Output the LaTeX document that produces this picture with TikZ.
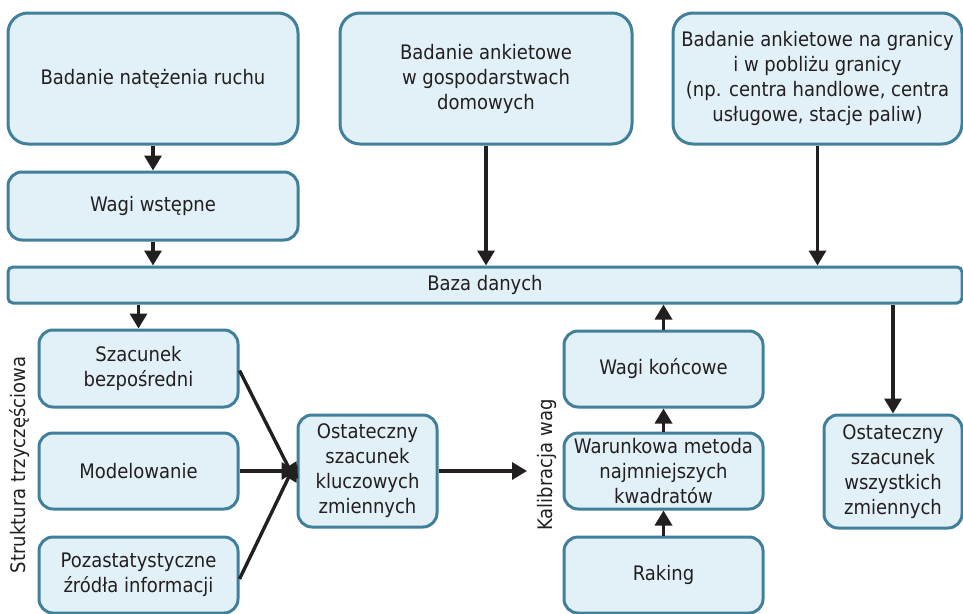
\documentclass[tikz,border=0pt]{standalone}
\usepackage{fontspec}
\setmainfont{DejaVu Sans Condensed}
\usepackage{tikz}
\usetikzlibrary{arrows.meta}
\definecolor{ramka}{HTML}{41809A}
\definecolor{tlo}{HTML}{E2F1F8}
\definecolor{tekst}{HTML}{231F20}

\begin{document}
\begin{tikzpicture}[x=1pt,y=-1pt,font=\fontsize{20}{25}\selectfont,text=tekst,
blok/.style 2 args={rectangle,draw=ramka,fill=tlo,line width=3pt,rounded corners=14pt,minimum width=#1,minimum height=#2,inner sep=0pt,align=center},
duzy/.style={rounded corners=20pt},
strz/.style={draw=tekst,line width=3.4pt,-{Triangle[width=17pt,length=15pt]}}]
\useasboundingbox (0,0) rectangle (963,613);
% gorny rzad
\node[blok={290pt}{131pt},duzy] (ruch) at (153,78.5) {Badanie natężenia ruchu};
\node[blok={292pt}{131pt},duzy] (gosp) at (486,78.5) {Badanie ankietowe\\w gospodarstwach\\domowych};
\node[blok={289pt}{131pt},duzy] (granica) at (817.5,78.5) {Badanie ankietowe na granicy\\i w pobliżu granicy\\(np. centra handlowe, centra\\usługowe, stacje paliw)};
\node[blok={290pt}{68pt}] (wstepne) at (153,206) {Wagi wstępne};
\node[blok={954pt}{36pt},rounded corners=5pt] (baza) at (485,285) {Baza danych};
% struktura trzyczesciowa
\node[blok={199pt}{77pt}] (bezp) at (138.5,368.5) {Szacunek\\bezpośredni};
\node[blok={199pt}{76pt}] (model) at (138.5,471) {Modelowanie};
\node[blok={199pt}{76pt}] (poza) at (138.5,575) {Pozastatystyczne\\źródła informacji};
\node[rotate=90] (struktura) at (20,465) {Struktura trzyczęściowa};
\node[blok={139pt}{112pt}] (klucz) at (367.5,471) {Ostateczny\\szacunek\\kluczowych\\zmiennych};
% kalibracja wag
\node[rotate=90] (kalibracja) at (547,465) {Kalibracja wag};
\coordinate (kal) at (527,471);
\node[blok={199pt}{76pt}] (koncowe) at (663.5,369) {Wagi końcowe};
\node[blok={199pt}{76pt}] (warunek) at (663.5,471) {Warunkowa metoda\\najmniejszych\\kwadratów};
\node[blok={199pt}{76pt}] (raking) at (663.5,575) {Raking};
\node[blok={138pt}{113pt}] (wszystkie) at (893,471.5) {Ostateczny\\szacunek\\wszystkich\\zmiennych};
% strzalki
\draw[strz] (ruch) -- (wstepne);
\foreach \z in {wstepne,gosp,granica} {
   \draw[strz] (\z.south) -- (\z.south |- baza.north);
}
\foreach \z in {bezp,wszystkie} {
   \draw[strz] (\z.north |- baza.south) -- (\z.north);
}
\draw[strz] (bezp.east) ++(0,2) -- ([yshift=-12pt]klucz.west);
\draw[strz] (model) -- (klucz);
\draw[strz] ([yshift=-4pt]poza.east) -- ([yshift=10pt]klucz.west);
\draw[strz] (klucz) -- (kal);
\draw[strz] (raking) -- (warunek);
\draw[strz] (warunek) -- (koncowe);
\draw[strz] (koncowe.north) -- (koncowe.north |- baza.south);
\end{tikzpicture}
\end{document}
